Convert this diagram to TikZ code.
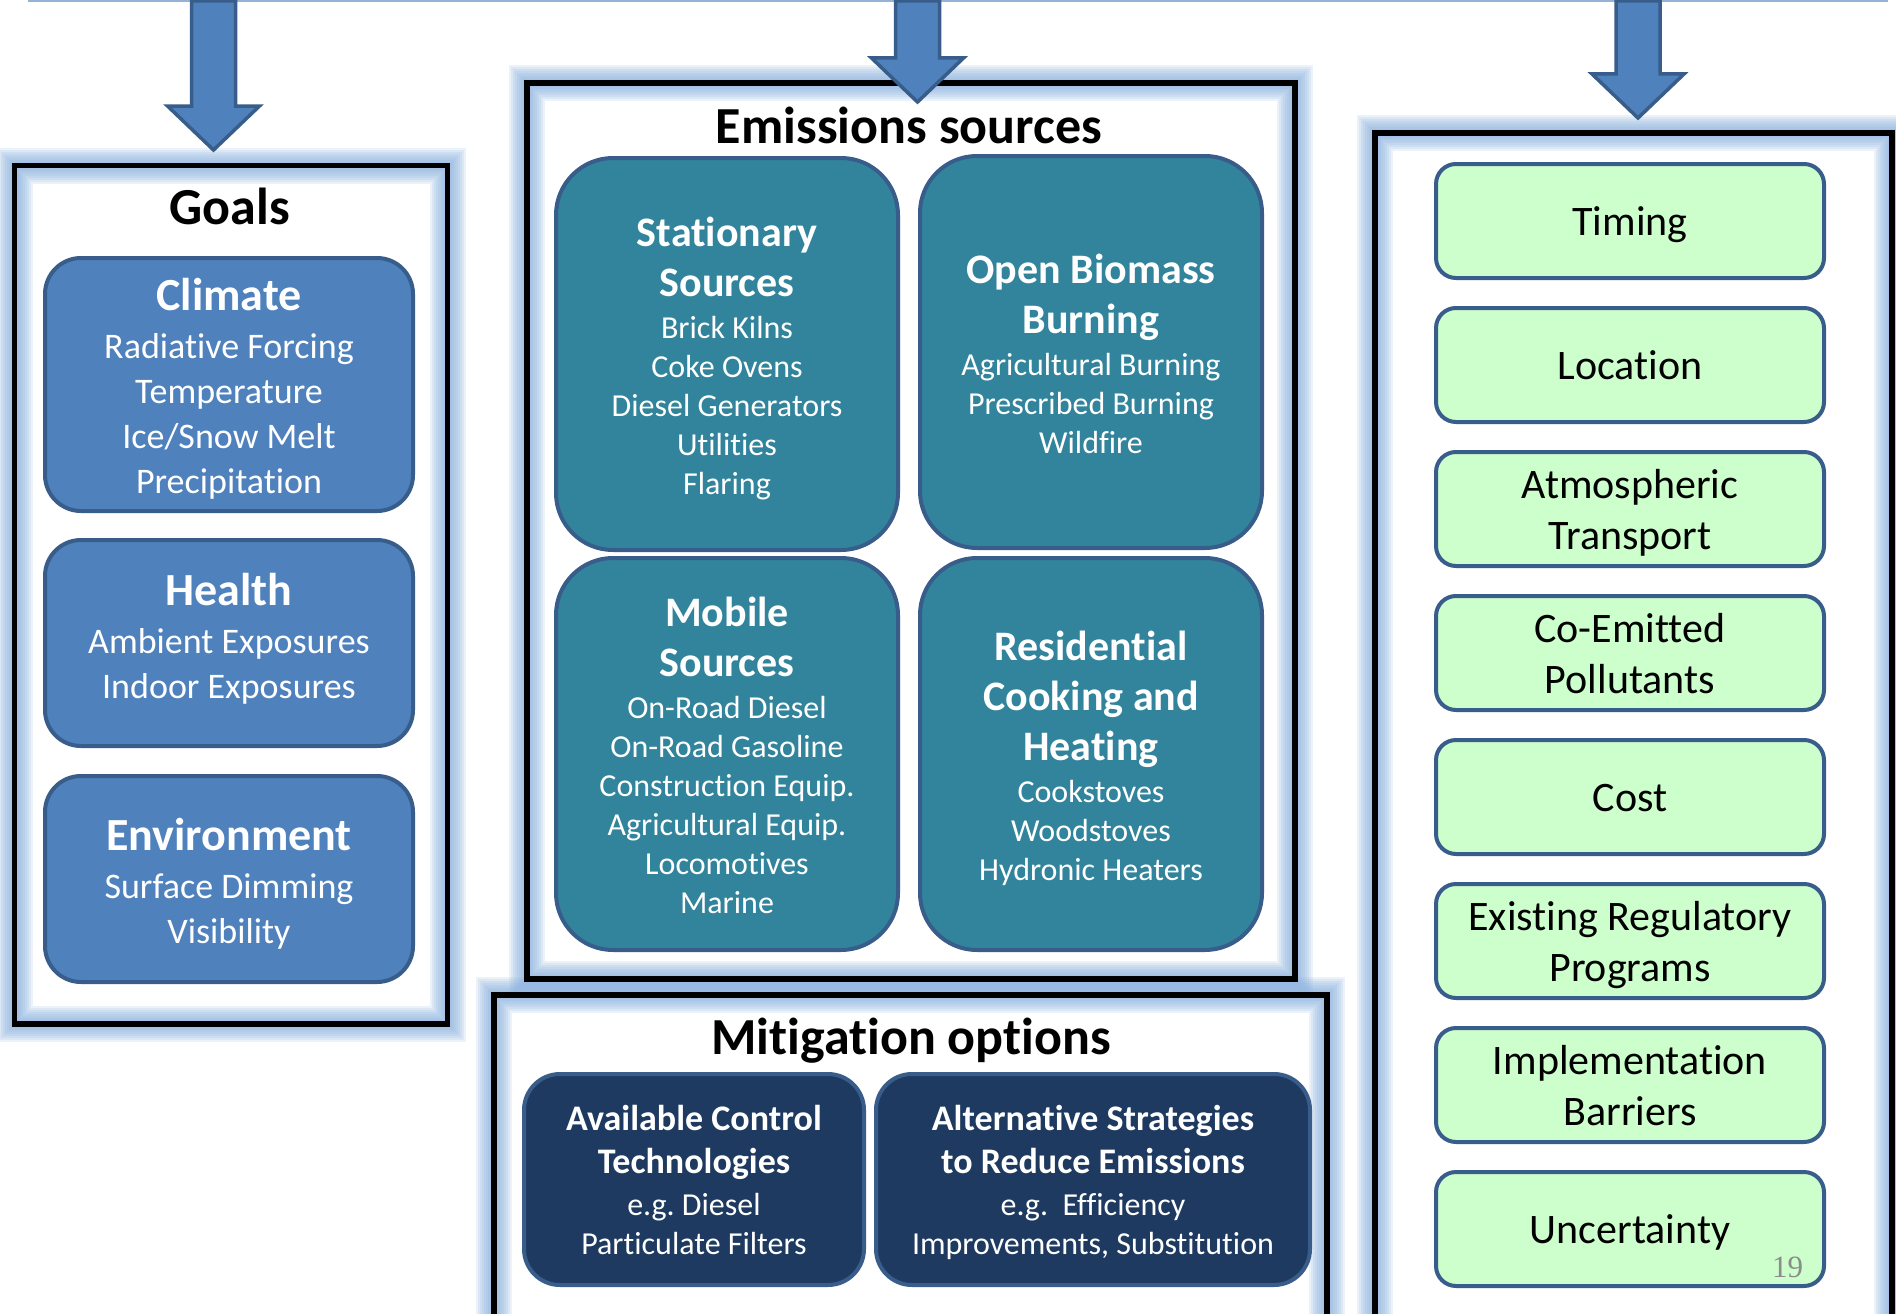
\documentclass[tikz,border=0pt]{standalone}
\usepackage{fontspec}
\setmainfont{Carlito}[Ligatures=NoCommon]
\newfontfamily\slidenumfont{Liberation Serif}

\definecolor{goalblue}{HTML}{4F81BD}
\definecolor{edgeblue}{HTML}{385D8A}
\definecolor{sourceteal}{HTML}{31849B}
\definecolor{mitnavy}{HTML}{1E3A60}
\definecolor{factorgreen}{HTML}{CCFFCC}
\definecolor{glowblue}{HTML}{8DB3E2}
\definecolor{rulegray}{HTML}{95B3D7}
\definecolor{numgray}{HTML}{8C8C8C}

% size switch with plain, unstretched word spaces
\newcommand{\fsz}[2]{\fontsize{#1}{#2}\selectfont\spaceskip=\fontdimen2\font\xspaceskip=\fontdimen2\font\relax}
% heading lines, with a strut that sets the top of the block
\newcommand{\boxhead}[4]{{\fsz{#1}{#2}\bfseries\rule{0pt}{#3}#4\par}\vspace{3pt}}
% item lines, with a strut that sets the bottom of the block
\newcommand{\boxitems}[4]{{\fsz{#1}{#2}#4\rule[-#3]{0pt}{#3}\par}}
\newcommand{\goaltext}[3][9pt]{\boxhead{46}{55}{44pt}{#2}\boxitems{36}{45}{#1}{#3}}
\newcommand{\sourcetext}[2]{\boxhead{42}{50}{40.5pt}{#1}\boxitems{32}{39}{8pt}{#2}}
\newcommand{\mittext}[2]{\boxhead{36}{43}{34pt}{#1}\boxitems{32}{39}{8pt}{#2}}
\newcommand{\factortext}[1]{{\fsz{42}{51}\rule{0pt}{40pt}#1\rule[-10.5pt]{0pt}{10.5pt}\par}}
% soft blue halo round a panel
\newcommand{\glowpanel}[2]{\foreach \w in {4,8,...,36}{\draw[panelglow, line width=\w pt] #1 rectangle #2;}}
% block arrow falling from the top edge: centre x, head start y
\newcommand{\droparrow}[2]{\draw[blockarrow] (#1-22,1) -- (#1-22,#2) -- (#1-46,#2) -- (#1,#2+44) -- (#1+46,#2) -- (#1+22,#2) -- (#1+22,1) -- cycle;}

\begin{document}
\begin{tikzpicture}[x=1pt, y=-1pt,
  panelframe/.style={draw=black, line width=5.5pt},
  panelglow/.style={draw=glowblue, opacity=0.17},
  blockarrow/.style={fill=goalblue, draw=edgeblue, line width=3.5pt, line join=miter},
  paneltitle/.style={font=\fsz{52}{62}\bfseries, inner sep=0pt, anchor=base},
  roundbox/.style={draw=edgeblue, line width=4pt, text=white, align=center, inner sep=0pt},
  goalbox/.style={roundbox, fill=goalblue, minimum width=368pt, text width=360pt,
    rounded corners=36pt},
  sourcebox/.style={roundbox, fill=sourceteal, minimum width=342pt, minimum height=392pt,
    text width=330pt, rounded corners=57pt},
  mitbox/.style={roundbox, fill=mitnavy, minimum height=211pt, rounded corners=36pt},
  factorbox/.style={roundbox, fill=factorgreen, text=black, minimum width=388pt,
    minimum height=114pt, text width=376pt, rounded corners=20pt},
]
  \useasboundingbox (0,0) rectangle (1896,1314);
  \fill[white] (0,0) rectangle (1896,1314);
  \clip (0,0) rectangle (1896,1314);

  % top rule
  \draw[rulegray, line width=2pt] (28,1) -- (1888,1);

  % panels
  \glowpanel{(14.5,165.5)}{(447.5,1024)}
  \glowpanel{(527,83)}{(1295,979)}
  \glowpanel{(494,995)}{(1327,1345)}
  \glowpanel{(1375,133)}{(1892,1345)}
  \draw[panelframe] (14.5,165.5) rectangle (447.5,1024);
  \draw[panelframe] (527,83) rectangle (1295,979);
  \draw[panelframe] (494,995) rectangle (1327,1345);
  \draw[panelframe] (1375,133) rectangle (1892,1345);

  \droparrow{213.5}{106}
  \droparrow{917.5}{58}
  \droparrow{1638}{74}

  % goals
  \node[paneltitle] (goals) at (230,224) {Goals};
  \node[goalbox, minimum height=253pt] (climate) at (229,384.5)
    {\goaltext{Climate}{Radiative Forcing\\Temperature\\Ice/Snow Melt\\Precipitation}};
  \node[goalbox, minimum height=206pt] (health) at (229,643)
    {\goaltext[26pt]{Health}{Ambient Exposures\\Indoor Exposures}};
  \node[goalbox, minimum height=206pt] (environment) at (229,879)
    {\goaltext{Environment}{Surface Dimming\\Visibility}};

  % emissions sources
  \node[paneltitle] (emissions) at (909,143) {Emissions sources};
  \node[sourcebox] (stationary) at (727,354)
    {\sourcetext{Stationary\\Sources}{Brick Kilns\\Coke Ovens\\Diesel Generators\\Utilities\\Flaring}};
  \node[sourcebox] (biomass) at (1091,352)
    {\sourcetext{Open Biomass\\Burning}{Agricultural Burning\\Prescribed Burning\\Wildfire}};
  \node[sourcebox] (mobile) at (727,754)
    {\sourcetext{Mobile\\Sources}{On-Road Diesel\\On-Road Gasoline\\Construction Equip.\\Agricultural Equip.\\Locomotives\\Marine}};
  \node[sourcebox] (residential) at (1091,754)
    {\sourcetext{Residential\\Cooking and\\Heating}{Cookstoves\\Woodstoves\\Hydronic Heaters}};

  % mitigation options
  \node[paneltitle] (mitigation) at (911,1054) {Mitigation options};
  \node[mitbox, minimum width=340pt, text width=330pt] (control) at (694,1179.5)
    {\mittext{Available Control\\Technologies}{e.g. Diesel\\Particulate Filters}};
  \node[mitbox, minimum width=434pt, text width=420pt] (strategies) at (1093,1179.5)
    {\mittext{Alternative Strategies\\to Reduce Emissions}{e.g.~~Efficiency\\Improvements, Substitution}};

  % factors
  \node[factorbox] (timing) at (1630,221) {\factortext{Timing}};
  \node[factorbox] (location) at (1630,365) {\factortext{Location}};
  \node[factorbox] (transport) at (1630,509) {\factortext{Atmospheric\\Transport}};
  \node[factorbox] (coemitted) at (1630,653) {\factortext{Co-Emitted\\Pollutants}};
  \node[factorbox] (cost) at (1630,797) {\factortext{Cost}};
  \node[factorbox] (programs) at (1630,941) {\factortext{Existing Regulatory\\Programs}};
  \node[factorbox] (barriers) at (1630,1085) {\factortext{Implementation\\Barriers}};
  \node[factorbox] (uncertainty) at (1630,1229) {\factortext{Uncertainty}};

  \node[anchor=base, inner sep=0pt, text=numgray, font=\slidenumfont\fsz{31}{31}] (slidenum) at (1787.5,1277) {19};
\end{tikzpicture}
\end{document}
